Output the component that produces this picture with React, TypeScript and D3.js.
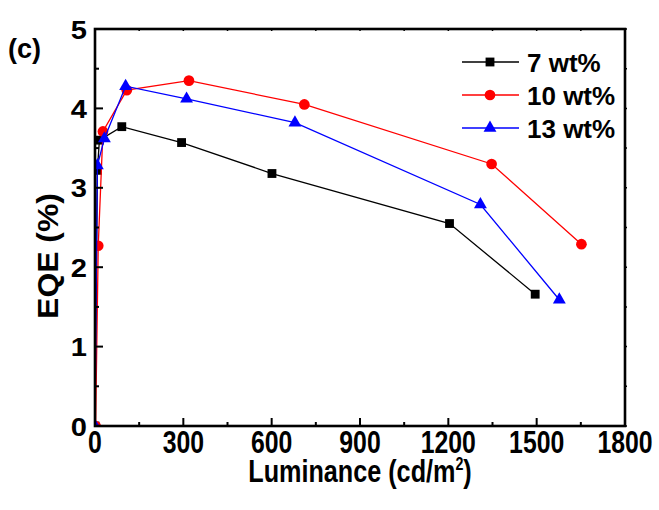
import React from "react";
import * as d3 from "d3";

// luminance (cd/m2) and EQE (%)
const lum7 = [0, 8, 15, 91, 294, 601, 1204, 1495];
const eqe7 = [0, 3.22, 3.6, 3.77, 3.57, 3.18, 2.55, 1.66];
const lum10 = [2, 11, 27, 108, 319, 711, 1347, 1652];
const eqe10 = [0, 2.27, 3.71, 4.23, 4.35, 4.05, 3.3, 2.29];
const lum13 = [0, 8, 32, 104, 311, 679, 1309, 1577];
const eqe13 = [0, 3.28, 3.62, 4.28, 4.12, 3.82, 2.79, 1.59];

const xTicks = [0, 300, 600, 900, 1200, 1500, 1800];
const yTicks = [0, 1, 2, 3, 4, 5];
const seriesNames = ["7 wt%", "10 wt%", "13 wt%"];

const W = 659, H = 510;
const font = "'Liberation Sans', Arial, sans-serif";

export default function App() {
  const x = d3.scaleLinear().domain([0, 1800]).range([95, 625]);
  const y = d3.scaleLinear().domain([0, 5]).range([426, 29]);

  const series = [
    { name: seriesNames[0], lum: lum7, eqe: eqe7, color: "#000000", shape: d3.symbolSquare, size: 78 },
    { name: seriesNames[1], lum: lum10, eqe: eqe10, color: "#ff0000", shape: d3.symbolCircle, size: 90 },
    { name: seriesNames[2], lum: lum13, eqe: eqe13, color: "#0000ff", shape: d3.symbolTriangle, size: 72 },
  ];

  const line = d3.line<[number, number]>().x(d => x(d[0])).y(d => y(d[1]));

  const xMinor = d3.range(0, 1801, 150);
  const yMinor = d3.range(0, 5.01, 0.5);
  const [x0, x1] = x.range();
  const [y0, y1] = y.range();

  return (
    <svg width={W} height={H} style={{ position: "absolute", left: 0, top: 0, background: "#fff" }}>
      <defs>
        <clipPath id="plot">
          <rect x={x0} y={y1} width={x1 - x0} height={y0 - y1} />
        </clipPath>
      </defs>

      {/* data */}
      <g clipPath="url(#plot)">
        {series.map(s => {
          const pts = s.lum.map((v, i) => [v, s.eqe[i]] as [number, number]);
          const sym = d3.symbol().type(s.shape).size(s.size)();
          return (
            <g key={s.name}>
              <path d={line(pts) || ""} fill="none" stroke={s.color} strokeWidth={1.3} />
              {pts.map((p, i) => (
                <path key={i} d={sym || ""} transform={`translate(${x(p[0])},${y(p[1])})`} fill={s.color} />
              ))}
            </g>
          );
        })}
      </g>

      {/* frame */}
      <rect x={x0} y={y1} width={x1 - x0} height={y0 - y1} fill="none" stroke="#000" strokeWidth={2.6} />

      {/* x ticks */}
      {xMinor.map(t => {
        const major = t % 300 === 0;
        return (
          <g key={"x" + t}>
            <line x1={x(t)} x2={x(t)} y1={y0} y2={y0 - (major ? 8 : 4)} stroke="#000" strokeWidth={2} />
            <line x1={x(t)} x2={x(t)} y1={y1} y2={y1 + 2} stroke="#000" strokeWidth={1.5} />
          </g>
        );
      })}
      {xTicks.map(t => (
        <text key={"xl" + t} transform={`translate(${x(t)},453) scale(0.8,1.02)`} textAnchor="middle"
          fontFamily={font} fontWeight="bold" fontSize={31}>{t}</text>
      ))}

      {/* y ticks */}
      {yMinor.map(t => {
        const major = Math.abs(t - Math.round(t)) < 1e-6;
        return (
          <g key={"y" + t}>
            <line x1={x0} x2={x0 + (major ? 8 : 4)} y1={y(t)} y2={y(t)} stroke="#000" strokeWidth={2} />
            <line x1={x1} x2={x1 + 2} y1={y(t)} y2={y(t)} stroke="#000" strokeWidth={1.5} />
          </g>
        );
      })}
      {yTicks.map(t => (
        <text key={"yl" + t} transform={`translate(87,${y(t) + 9.5}) scale(1.12,1)`} textAnchor="end"
          fontFamily={font} fontWeight="bold" fontSize={26}>{t}</text>
      ))}

      {/* axis titles */}
      <text transform={`translate(360,482) scale(0.84,1.05)`} textAnchor="middle" fontFamily={font}
        fontWeight="bold" fontSize={30}>
        Luminance (cd/m<tspan dy={-11} fontSize={17}>2</tspan><tspan dy={11}>)</tspan>
      </text>
      <text transform={`translate(58,256) rotate(-90) scale(1.1,1)`} textAnchor="middle" fontFamily={font}
        fontWeight="bold" fontSize={29}>EQE (%)</text>

      <text x={8} y={58} fontFamily={font} fontWeight="bold" fontSize={27}>(c)</text>

      {/* legend */}
      {series.map((s, i) => {
        const ly = 62 + i * 33;
        const sym = d3.symbol().type(s.shape).size(s.size)();
        return (
          <g key={"lg" + s.name}>
            <line x1={462} x2={519} y1={ly} y2={ly} stroke={s.color} strokeWidth={1.3} />
            <path d={sym || ""} transform={`translate(490,${ly})`} fill={s.color} />
            <text x={527} y={ly + 9.5} fontFamily={font} fontWeight="bold" fontSize={26}>{s.name}</text>
          </g>
        );
      })}
    </svg>
  );
}
